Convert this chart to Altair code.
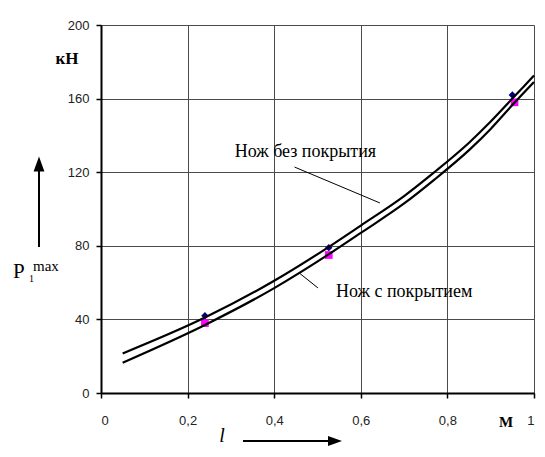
import altair as alt
import pandas as pd

# curve samples
x_upper = [0.05, 0.24, 0.40, 0.53, 0.60, 0.70, 0.77, 0.85, 0.90, 0.95, 1.00]
y_upper = [21.5, 41, 61, 80, 91, 107, 120, 136, 147.5, 160, 172.5]
x_lower = [0.05, 0.24, 0.40, 0.53, 0.60, 0.70, 0.77, 0.85, 0.90, 0.95, 1.00]
y_lower = [16.5, 37, 57, 76, 87, 103, 116, 132, 143.5, 156.5, 169]

# measured points
px_upper = [0.24, 0.526, 0.95]
py_upper = [42, 79, 162]
px_lower = [0.24, 0.526, 0.955]
py_lower = [38, 75, 158]

names = ["Нож без покрытия", "Нож с покрытием"]
x_ticks = [0, 0.2, 0.4, 0.6, 0.8, 1.0]
y_ticks = [0, 40, 80, 120, 160, 200]

lines = pd.DataFrame(
    [{"x": a, "y": b, "s": names[0]} for a, b in zip(x_upper, y_upper)]
    + [{"x": a, "y": b, "s": names[1]} for a, b in zip(x_lower, y_lower)]
)
pts_u = pd.DataFrame({"x": px_upper, "y": py_upper})
pts_l = pd.DataFrame({"x": px_lower, "y": py_lower})

# annotation texts and leaders (data coordinates)
ann = pd.DataFrame({
    "t": names,
    "x": [0.472, 0.70],
    "y": [128.5, 52.0],
})
leaders = pd.DataFrame({
    "x": [0.447, 0.458], "y": [122.8, 65.2],
    "x2": [0.644, 0.501], "y2": [103.3, 57.1],
})

xs = alt.Scale(domain=[0, 1], nice=False)
ys = alt.Scale(domain=[0, 200], nice=False)

x_axis = alt.Axis(values=x_ticks, title=None,
                  labelExpr="replace(format(datum.value, '~g'), '.', ',')")
y_axis = alt.Axis(values=y_ticks, title=None)

base_x = alt.X("x:Q", scale=xs, axis=x_axis)
base_y = alt.Y("y:Q", scale=ys, axis=y_axis)

m_u = alt.Chart(pts_u).mark_point(shape="diamond", filled=True, color="#000080",
                                  size=55, opacity=1).encode(x=base_x, y=base_y)
m_l = alt.Chart(pts_l).mark_square(color="#ff00ff", size=60, opacity=1).encode(
    x=alt.X("x:Q", scale=xs), y=alt.Y("y:Q", scale=ys))

curves = alt.Chart(lines).mark_line(interpolate="monotone", strokeWidth=2.2).encode(
    x=alt.X("x:Q", scale=xs), y=alt.Y("y:Q", scale=ys),
    detail="s:N", color=alt.value("black"))

lead = alt.Chart(leaders).mark_rule(color="black", strokeWidth=1).encode(
    x=alt.X("x:Q", scale=xs), y=alt.Y("y:Q", scale=ys), x2="x2:Q", y2="y2:Q")

txt = alt.Chart(ann).mark_text(font="Liberation Serif", fontSize=18, color="black",
                               baseline="alphabetic", align="center").encode(
    x=alt.X("x:Q", scale=xs), y=alt.Y("y:Q", scale=ys), text="t:N")

def label(text, x, y, size, weight="normal", style="normal", align="left",
          baseline="alphabetic"):
    return alt.Chart(pd.DataFrame({"t": [text]})).mark_text(
        font="Liberation Serif", fontSize=size, fontWeight=weight, fontStyle=style,
        align=align, baseline=baseline, color="black").encode(
        x=alt.value(x), y=alt.value(y), text="t:N")

kn = label("кН", -34, 39, 17, weight="bold", align="center")
m_unit = label("М", 405, 402, 15, weight="bold", align="center")
p_main = label("P", -88, 253, 21)
p_sub = label("1", -72, 257, 10)
p_sup = label("max", -68, 246, 15)
l_lbl = label("l", 121, 417, 20, style="italic", align="center")

up_shaft = alt.Chart(pd.DataFrame({"a": [0]})).mark_rule(color="black", strokeWidth=2).encode(
    x=alt.value(-62), y=alt.value(222), y2=alt.value(145))
up_head = alt.Chart(pd.DataFrame({"a": [0]})).mark_point(
    shape="M0,-1L0.72,1L-0.72,1Z", filled=True, color="black", size=225, opacity=1).encode(
    x=alt.value(-62), y=alt.value(139))
r_shaft = alt.Chart(pd.DataFrame({"a": [0]})).mark_rule(color="black", strokeWidth=2).encode(
    x=alt.value(142), x2=alt.value(228), y=alt.value(416))
r_head = alt.Chart(pd.DataFrame({"a": [0]})).mark_point(
    shape="M1,0L-1,-0.72L-1,0.72Z", filled=True, color="black", size=196, opacity=1).encode(
    x=alt.value(234), y=alt.value(416))

chart = alt.layer(
    m_u, m_l, curves, lead, txt, kn, m_unit, p_main, p_sub, p_sup, l_lbl,
    up_shaft, up_head, r_shaft, r_head
).properties(
    width=433, height=368,
    autosize=alt.AutoSizeParams(type="none"),
    padding={"left": 93, "top": 17, "right": 3, "bottom": 56},
    background="white",
).configure_view(strokeWidth=0).configure_axis(
    grid=True, gridColor="#4a4a4a", gridWidth=1, gridOpacity=1,
    domainColor="black", domainWidth=2,
    tickColor="black", tickSize=5, tickWidth=1.5,
    labelFont="Liberation Sans", labelFontSize=13, labelColor="#222",
).configure_axisY(labelPadding=7).configure_axisX(labelPadding=16)

chart.save("out.html", embed_options={"renderer": "svg", "actions": False})
